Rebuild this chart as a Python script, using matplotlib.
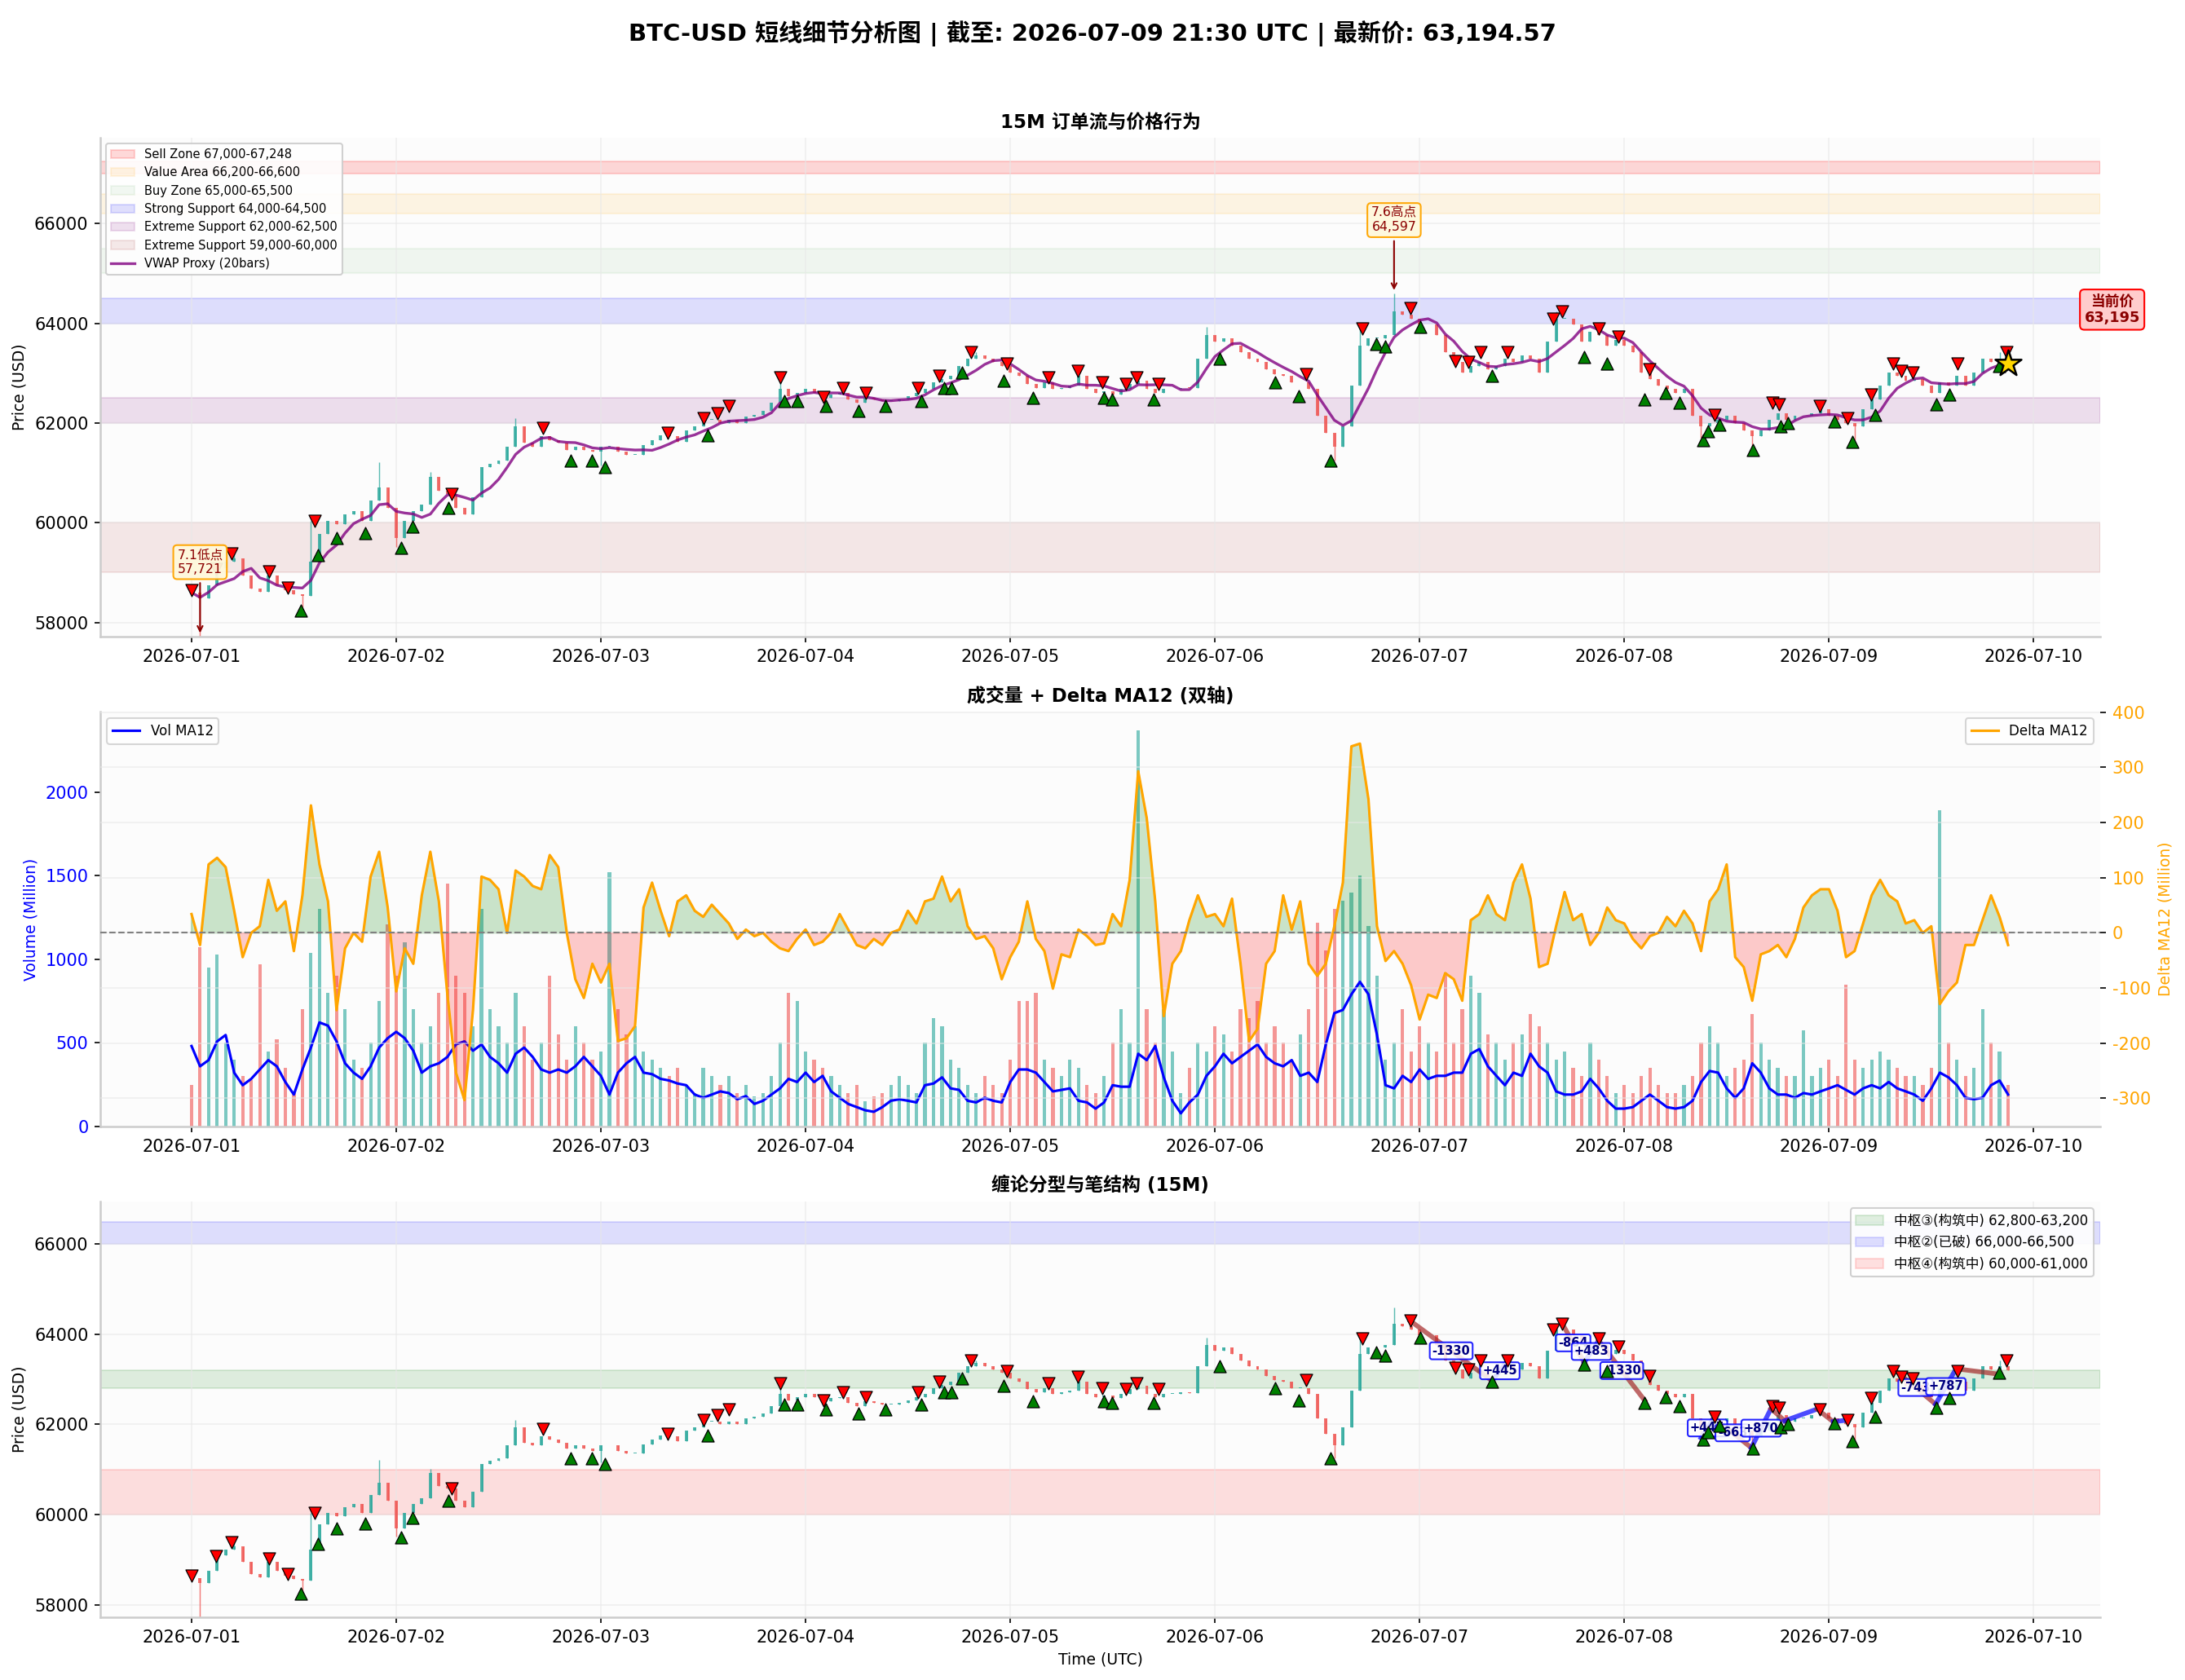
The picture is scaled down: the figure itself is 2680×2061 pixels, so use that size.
"""
BTC-USD 15M short-term detail chart: price action, volume/delta and chan-theory strokes
"""

import numpy as np
import pandas as pd
import matplotlib
matplotlib.use("Agg")
import matplotlib.pyplot as plt
import matplotlib.dates as mdates

plt.rcParams['font.family'] = ['DejaVu Sans', 'Noto Sans CJK SC']
plt.rcParams['axes.unicode_minus'] = False

START = pd.Timestamp("2026-07-01 00:00")

# hourly closes (USD), 2026-07-01 00:00 -> 2026-07-09 21:00 UTC
close = [
    58600, 58480, 58750, 59090, 59220, 59290, 58950, 58680, 58610, 58950, 58750, 58640,
    58570, 58540, 59220, 59780, 60030, 59970, 60170, 60240, 60030, 60440, 60710, 60300,
    59690, 60030, 60240, 60370, 60920, 60640, 60580, 60300, 60170, 60510, 61120, 61190,
    61250, 61530, 61930, 61600, 61530, 61730, 61660, 61600, 61460, 61530, 61460, 61420,
    61530, 61530, 61420, 61360, 61360, 61560, 61660, 61760, 61730, 61630, 61860, 61930,
    62070, 62070, 62000, 62070, 62000, 62130, 62170, 62240, 62410, 62680, 62540, 62610,
    62680, 62610, 62510, 62580, 62610, 62470, 62410, 62510, 62470, 62440, 62440, 62470,
    62540, 62610, 62680, 62810, 62880, 62950, 63150, 63290, 63360, 63290, 63220, 63150,
    63020, 62950, 62780, 62710, 62810, 62680, 62710, 62750, 62950, 62680, 62610, 62640,
    62580, 62680, 62780, 62850, 62680, 62610, 62680, 62680, 62710, 62700, 63290, 63760,
    63630, 63700, 63560, 63420, 63290, 63220, 63080, 62980, 62950, 62810, 62810, 62680,
    62140, 61800, 61530, 61930, 62750, 63560, 63700, 63700, 63760, 64240, 64170, 64100,
    63970, 63970, 63760, 63420, 63220, 63020, 63150, 63220, 63080, 63150, 63290, 63220,
    63360, 63290, 63020, 63630, 64100, 64100, 63970, 63630, 63830, 63760, 63560, 63660,
    63560, 63420, 63020, 62880, 62750, 62680, 62610, 62680, 62140, 61930, 62000, 62070,
    62140, 62000, 61860, 61730, 61860, 62070, 62200, 62070, 62140, 62140, 62200, 62270,
    62140, 62070, 62000, 61930, 62270, 62470, 62750, 63020, 62950, 62850, 62880, 62750,
    62610, 62810, 62750, 62950, 62750, 63020, 63290, 63220, 63290, 63194.57,
]
first_open = 58650

# notable wick extremes (hour index -> price)
wick_high = {3: 59150, 5: 59390, 14: 60030, 22: 61220, 28: 61020, 38: 62100, 69: 62920,
             92: 63420, 119: 63930, 137: 63900, 141: 64597, 160: 64240, 212: 63420}
wick_low = {1: 57721, 13: 58300, 24: 59520, 48: 61150, 134: 61250, 177: 61700,
            183: 61480, 195: 61650}

# volume per bar (Million)
volume = [
    250, 1070, 950, 1030, 500, 400, 300, 280, 970, 450, 520, 350,
    200, 700, 1040, 1300, 800, 900, 700, 400, 350, 500, 750, 1210,
    900, 1100, 700, 500, 600, 800, 1450, 900, 800, 600, 1300, 700,
    600, 500, 800, 600, 400, 500, 900, 550, 400, 600, 500, 400,
    450, 1520, 700, 550, 600, 450, 400, 350, 300, 350, 250, 200,
    350, 300, 250, 300, 200, 250, 180, 200, 300, 500, 800, 750,
    450, 400, 350, 300, 250, 200, 250, 150, 180, 200, 250, 300,
    250, 200, 500, 650, 600, 400, 350, 250, 200, 300, 250, 200,
    400, 750, 750, 800, 400, 350, 300, 400, 350, 250, 200, 300,
    500, 700, 500, 2370, 700, 500, 700, 450, 200, 350, 500, 450,
    600, 550, 450, 700, 650, 750, 500, 600, 500, 400, 550, 700,
    1220, 1050, 1300, 1350, 1400, 1500, 1200, 900, 400, 500, 700, 450,
    600, 500, 450, 920, 500, 700, 900, 800, 550, 500, 400, 500,
    550, 670, 600, 500, 400, 450, 350, 300, 500, 400, 300, 200,
    250, 200, 300, 350, 250, 200, 200, 250, 300, 500, 600, 500,
    300, 350, 400, 670, 500, 400, 350, 300, 300, 575, 300, 350,
    400, 300, 850, 400, 350, 400, 450, 400, 350, 300, 300, 250,
    350, 1890, 500, 400, 300, 350, 700, 500, 450, 250,
]

vol_ma12 = [
    481, 360, 397, 509, 547, 322, 247, 285, 341, 397, 360, 266,
    191, 341, 472, 622, 603, 509, 378, 322, 285, 360, 472, 528,
    566, 528, 453, 322, 360, 378, 416, 491, 509, 453, 491, 416,
    378, 322, 435, 472, 416, 341, 322, 341, 322, 360, 416, 360,
    303, 191, 322, 378, 416, 322, 313, 285, 275, 257, 247, 191,
    172, 191, 210, 200, 163, 182, 135, 154, 191, 228, 285, 266,
    322, 266, 303, 210, 172, 135, 116, 97, 88, 116, 154, 163,
    154, 144, 247, 257, 294, 228, 219, 154, 144, 172, 154, 144,
    266, 341, 341, 322, 266, 210, 219, 228, 154, 144, 107, 144,
    247, 238, 238, 435, 397, 481, 294, 154, 79, 144, 191, 303,
    360, 435, 378, 416, 453, 491, 416, 378, 360, 397, 303, 322,
    266, 491, 678, 697, 790, 865, 790, 547, 247, 228, 303, 266,
    341, 285, 303, 303, 322, 322, 435, 463, 360, 303, 247, 322,
    303, 435, 360, 322, 210, 191, 191, 210, 285, 228, 154, 107,
    107, 116, 154, 191, 154, 116, 107, 116, 154, 266, 332, 322,
    228, 172, 228, 378, 322, 228, 191, 191, 172, 200, 191, 210,
    228, 247, 219, 191, 228, 247, 228, 266, 228, 210, 191, 154,
    228, 322, 294, 247, 172, 163, 172, 247, 275, 191,
]

delta_ma12 = [
    34, -22, 124, 136, 119, 40, -44, 0, 12, 96, 40, 57,
    -33, 68, 231, 124, 57, -140, -28, 0, -16, 102, 147, 46,
    -106, -28, -56, 68, 147, 57, -112, -253, -303, -140, 102, 96,
    79, 0, 113, 102, 85, 79, 141, 119, 0, -84, -118, -56,
    -90, -56, -196, -191, -169, 46, 91, 40, -6, 57, 68, 40,
    29, 51, 34, 17, -11, 6, -6, 0, -16, -28, -33, -11,
    6, -22, -16, 0, 34, 6, -22, -28, -11, -22, 0, 6,
    40, 17, 57, 62, 102, 57, 79, 12, -11, -6, -28, -84,
    -44, -16, 57, -11, -33, -101, -39, -44, 6, -6, -22, -19,
    34, 12, 96, 293, 208, 57, -151, -56, -33, 23, 68, 29,
    34, 12, 62, -56, -196, -174, -56, -33, 68, 6, 57, -56,
    -78, -56, 12, 91, 338, 343, 242, 12, -51, -33, -56, -95,
    -157, -112, -118, -73, -84, -123, 23, 34, 68, 34, 23, 91,
    124, 62, -62, -56, 12, 74, 23, 34, -22, 0, 46, 23,
    17, -11, -28, -6, 0, 29, 12, 40, 17, -33, 57, 79,
    124, -44, -62, -123, -39, -33, -22, -44, -11, 46, 68, 79,
    79, 40, -44, -33, 17, 68, 96, 68, 57, 17, 23, 0,
    12, -129, -106, -90, -22, -22, 23, 68, 29, -22,
]

# fractals (hours since START, price)
top_hours = [0.0, 2.9, 4.7, 9.1, 11.3, 14.4, 30.5, 41.2, 55.8, 60.0, 61.7, 63.0,
             69.0, 74.1, 76.4, 79.1, 85.2, 87.7, 91.4, 95.6, 100.5, 103.9, 106.8, 109.6,
             110.8, 113.4, 130.7, 137.3, 142.9, 148.2, 149.7, 151.1, 154.3, 159.7, 160.7, 165.0,
             167.3, 170.9, 178.6, 185.4, 186.1, 190.9, 194.2, 196.9, 199.5, 200.5, 201.8, 207.1,
             212.8]
top_prices = [58640, 59080, 59390, 59020, 58690, 60030, 60580, 61900, 61800, 62100, 62200, 62340,
              62920, 62530, 62710, 62610, 62710, 62950, 63420, 63190, 62920, 63050, 62810, 62780,
              62920, 62780, 62980, 63900, 64300, 63250, 63220, 63420, 63420, 64100, 64240, 63900,
              63730, 63080, 62170, 62410, 62370, 62340, 62100, 62580, 63190, 63050, 63020, 63190,
              63420]
bottom_hours = [12.8, 14.8, 17.0, 20.4, 24.6, 25.9, 30.1, 44.5, 46.9, 48.5, 60.5, 69.5,
                71.0, 74.4, 78.2, 81.4, 85.6, 88.2, 89.1, 90.3, 95.2, 98.7, 107.0, 107.9,
                112.8, 120.6, 127.1, 129.8, 133.6, 138.9, 140.0, 144.1, 152.5, 163.3, 166.0, 170.4,
                172.8, 174.5, 177.2, 177.8, 179.2, 183.1, 186.3, 187.2, 192.6, 194.7, 197.4, 204.6,
                206.1, 211.9]
bottom_prices = [58240, 59350, 59690, 59800, 59490, 59930, 60300, 61250, 61250, 61120, 61760, 62440,
                 62440, 62340, 62240, 62340, 62440, 62710, 62710, 63020, 62850, 62510, 62510, 62470,
                 62470, 63290, 62810, 62540, 61250, 63590, 63530, 63930, 62950, 63320, 63190, 62470,
                 62610, 62410, 61660, 61830, 61970, 61460, 61930, 62000, 62030, 61630, 62170, 62370,
                 62580, 63150]

# strokes (笔): chains of turning points
stroke_hours = [[142.9, 152.5, 154.3],
                [160.7, 163.3, 165.0, 170.4],
                [177.0, 178.5, 182.9, 185.2, 186.8, 190.6, 192.5, 193.9],
                [199.8, 204.5, 206.9, 211.7]]
stroke_prices = [[64297, 62967, 63412],
                 [64240, 63376, 63859, 62529],
                 [61700, 62145, 61482, 62352, 62080, 62340, 62060, 62090],
                 [63190, 62447, 63234, 63120]]

zone_names = ["Sell Zone 67,000-67,248", "Value Area 66,200-66,600", "Buy Zone 65,000-65,500",
              "Strong Support 64,000-64,500", "Extreme Support 62,000-62,500",
              "Extreme Support 59,000-60,000"]
zone_low = [67000, 66200, 65000, 64000, 62000, 59000]
zone_high = [67248, 66600, 65500, 64500, 62500, 60000]

pivot_names = ["中枢③(构筑中) 62,800-63,200", "中枢②(已破) 66,000-66,500", "中枢④(构筑中) 60,000-61,000"]
pivot_low = [62800, 66000, 60000]
pivot_high = [63200, 66500, 61000]

low_hour, low_price = 1, 57721
high_hour, high_price = 141, 64597


def hours_to_num(h):
    return mdates.date2num(START.to_pydatetime()) + np.asarray(h, dtype=float) / 24.0


times = pd.date_range(START, periods=len(close), freq="h")
xs = mdates.date2num(times.to_pydatetime())
c = np.array(close, dtype=float)
o = np.r_[first_open, c[:-1]]
hi = np.maximum(o, c)
lo = np.minimum(o, c)
for k, v in wick_high.items():
    hi[k] = max(hi[k], v)
for k, v in wick_low.items():
    lo[k] = min(lo[k], v)
cols = np.where(c >= o, "#26a69a", "#ef5350")

xmin = hours_to_num(-10.7)
xmax = hours_to_num(223.8)


def style_axes(ax):
    ax.set_facecolor("#fcfcfc")
    for s in ("top", "right"):
        ax.spines[s].set_visible(False)
    for s in ("left", "bottom"):
        ax.spines[s].set_color("#cccccc")
        ax.spines[s].set_linewidth(1.2)
    ax.xaxis.set_major_locator(mdates.DayLocator())
    ax.xaxis.set_major_formatter(mdates.DateFormatter("%Y-%m-%d"))
    ax.set_xlim(xmin, xmax)
    ax.tick_params(labelsize=10)


def draw_candles(ax):
    ax.vlines(xs, lo, hi, colors=cols, linewidth=0.7, alpha=0.75, zorder=2)
    ax.bar(xs, np.maximum(np.abs(c - o), 12), bottom=np.minimum(o, c), width=0.38 / 24,
           color=cols, alpha=0.8, linewidth=0, zorder=3)


def draw_fractals(ax):
    ax.scatter(hours_to_num(top_hours), top_prices, marker="v", s=52, c="red",
               edgecolors="black", linewidths=0.6, zorder=6)
    ax.scatter(hours_to_num(bottom_hours), bottom_prices, marker="^", s=52, c="green",
               edgecolors="black", linewidths=0.6, zorder=6)


W, H, DPI = 2680, 2061, 150
fig = plt.figure(figsize=(W / DPI, H / DPI), dpi=DPI)


def rect(top_px, bottom_px):
    return [123 / W, 1 - bottom_px / H, (2576 - 123) / W, (bottom_px - top_px) / H]


ax1 = fig.add_axes(rect(169, 781))
ax2 = fig.add_axes(rect(873, 1382))
ax3 = fig.add_axes(rect(1474, 1984))

fig.suptitle("BTC-USD 短线细节分析图 | 截至: 2026-07-09 21:30 UTC | 最新价: 63,194.57",
             fontsize=14, fontweight="bold", y=0.988)

# ---- panel 1: price + zones ----
style_axes(ax1)
ax1.grid(True, color="#e8e8e8", linewidth=0.8, alpha=0.6)
zone_colors = ["red", "orange", "green", "blue", "purple", "brown"]
zone_alpha = [0.15, 0.10, 0.05, 0.12, 0.12, 0.10]
for name, zl, zh, zc, za in zip(zone_names, zone_low, zone_high, zone_colors, zone_alpha):
    ax1.axhspan(zl, zh, color=zc, alpha=za, label=name, zorder=1)
draw_candles(ax1)

# VWAP proxy: volume weighted rolling mean of the closes
vw = pd.Series(c * np.array(volume)).rolling(5, min_periods=1).sum() / \
    pd.Series(np.array(volume, dtype=float)).rolling(5, min_periods=1).sum()
ax1.plot(xs, vw, color="purple", linewidth=1.6, alpha=0.8, label="VWAP Proxy (20bars)", zorder=4)
draw_fractals(ax1)
ax1.scatter(xs[-1], c[-1], marker="*", s=260, c="gold", edgecolors="black", linewidths=1.2, zorder=7)

ax1.annotate(f"7.1低点\n{low_price:,.0f}", xy=(hours_to_num(low_hour), low_price),
             xytext=(hours_to_num(low_hour), 59210), ha="center", va="center", fontsize=7.5,
             color="darkred",
             bbox=dict(boxstyle="round,pad=0.3", fc="#fff8dc", ec="orange", alpha=0.95),
             arrowprops=dict(arrowstyle="->", color="darkred", lw=1), zorder=8)
ax1.annotate(f"7.6高点\n{high_price:,.0f}", xy=(hours_to_num(high_hour), high_price),
             xytext=(hours_to_num(high_hour), 66070), ha="center", va="center", fontsize=7.5,
             color="darkred",
             bbox=dict(boxstyle="round,pad=0.3", fc="#fff8dc", ec="orange", alpha=0.95),
             arrowprops=dict(arrowstyle="->", color="darkred", lw=1), zorder=8)
ax1.text(hours_to_num(225.2), 64275, f"当前价\n{c[-1]:,.0f}", ha="center", va="center",
         fontsize=8.5, fontweight="bold", color="darkred",
         bbox=dict(boxstyle="round,pad=0.3", fc="#ffcccc", ec="red", lw=1), zorder=8)

ax1.set_ylim(57716, 67722)
ax1.set_ylabel("Price (USD)", fontsize=9)
ax1.set_title("15M 订单流与价格行为", fontsize=11, fontweight="bold")
ax1.legend(loc="upper left", fontsize=7, framealpha=0.9)

# ---- panel 2: volume + delta ----
style_axes(ax2)
ax2.bar(xs, volume, width=0.4 / 24, color=cols, alpha=0.6, linewidth=0)
ax2.plot(xs, vol_ma12, color="blue", linewidth=1.5, label="Vol MA12")
ax2.set_ylim(0, 2480)
ax2.set_ylabel("Volume (Million)", color="blue", fontsize=9)
ax2.tick_params(axis="y", labelcolor="blue")
ax2.legend(loc="upper left", fontsize=8)
ax2.set_title("成交量 + Delta MA12 (双轴)", fontsize=11, fontweight="bold")

ax2r = ax2.twinx()
d = np.array(delta_ma12, dtype=float)
ax2r.plot(xs, d, color="orange", linewidth=1.5, label="Delta MA12")
ax2r.fill_between(xs, d, 0, where=d >= 0, color="green", alpha=0.2, interpolate=True)
ax2r.fill_between(xs, d, 0, where=d < 0, color="red", alpha=0.2, interpolate=True)
ax2r.axhline(0, color="gray", linestyle="--", linewidth=1)
ax2r.set_ylim(-351, 401)
ax2r.set_ylabel("Delta MA12 (Million)", color="orange", fontsize=9)
ax2r.tick_params(axis="y", labelcolor="orange", labelsize=10)
ax2r.grid(True, color="#e8e8e8", linewidth=0.8, alpha=0.6)
for s in ("top", "right", "left", "bottom"):
    ax2r.spines[s].set_visible(False)
ax2r.legend(loc="upper right", fontsize=8)
ax2r.set_xlim(xmin, xmax)

# ---- panel 3: fractals + strokes ----
style_axes(ax3)
ax3.grid(True, color="#e8e8e8", linewidth=0.8, alpha=0.6)
pivot_colors = ["green", "blue", "red"]
for name, pl, ph, pc in zip(pivot_names, pivot_low, pivot_high, pivot_colors):
    ax3.axhspan(pl, ph, color=pc, alpha=0.12, label=name, zorder=1)
draw_candles(ax3)
for hs, ps in zip(stroke_hours, stroke_prices):
    for i in range(len(hs) - 1):
        p0, p1 = ps[i], ps[i + 1]
        ax3.plot(hours_to_num([hs[i], hs[i + 1]]), [p0, p1],
                 color="blue" if p1 > p0 else "brown", linewidth=2.8, alpha=0.7, zorder=4)
        diff = p1 - p0
        if abs(diff) > 400:
            ax3.text(hours_to_num((hs[i] + hs[i + 1]) / 2), (p0 + p1) / 2, f"{diff:+.0f}",
                     ha="center", va="center", fontsize=7, fontweight="bold", color="navy",
                     bbox=dict(boxstyle="round,pad=0.2", fc="white", ec="blue", alpha=0.85),
                     zorder=5)
draw_fractals(ax3)
ax3.set_ylim(57724, 66943)
ax3.set_ylabel("Price (USD)", fontsize=9)
ax3.set_xlabel("Time (UTC)", fontsize=9)
ax3.set_title("缠论分型与笔结构 (15M)", fontsize=11, fontweight="bold")
ax3.legend(loc="upper right", fontsize=8, framealpha=0.9)

fig.savefig("out.png", dpi=DPI)
